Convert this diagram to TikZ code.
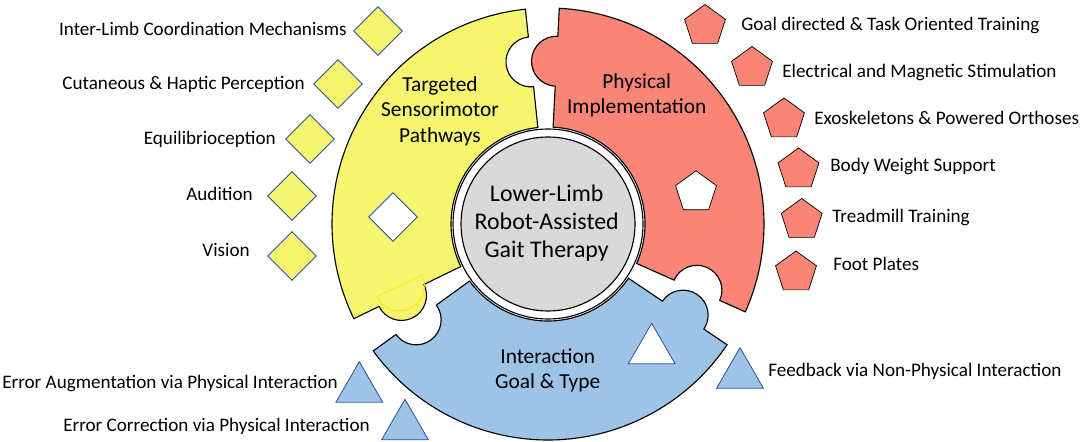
\documentclass[tikz,border=0pt]{standalone}
\usepackage{fontspec}
\setmainfont{Carlito}
\usepackage{tikz}
\usetikzlibrary{positioning,shapes.geometric}
\definecolor{sensyellow}{RGB}{245,245,112}
\definecolor{physred}{RGB}{248,133,118}
\definecolor{interblue}{RGB}{157,195,230}
\definecolor{hubgray}{RGB}{217,217,217}
\definecolor{edgeblue}{RGB}{47,85,151}
\definecolor{seamyellow}{RGB}{255,236,0}
\tikzset{
  piece/.style={draw=black,line width=0.8pt},
  sens/.style={diamond,minimum size=1.225cm,inner sep=0pt,draw=edgeblue,line width=0.6pt,fill=sensyellow},
  phys/.style={regular polygon,regular polygon sides=5,minimum size=1.075cm,inner sep=0pt,draw=black,line width=0.5pt,fill=physred},
  inter/.style={regular polygon,regular polygon sides=3,minimum size=1.35cm,inner sep=0pt,draw=edgeblue,line width=0.6pt,fill=interblue},
  item/.style={inner sep=0pt,font=\fontsize{13.6}{16}\selectfont},
  title/.style={inner sep=0pt,align=center,font=\fontsize{15.2}{18.1}\selectfont},
}
\newcommand{\puzzlepiece}[3]{%
  \filldraw[piece,fill=#3] (#1:97) arc[start angle=#1,end angle=#2,radius=97]
    -- (#2:138) arc[start angle=#2+180,end angle=#2,radius=25]
    -- (#2:216) arc[start angle=#2,end angle=#1,radius=216]
    -- (#1:188) arc[start angle=#1,end angle=#1+180,radius=25]
    -- cycle;}

\begin{document}
\begin{tikzpicture}[x=0.025cm,y=0.025cm]
\useasboundingbox (0,0) rectangle (1084,441);
\begin{scope}[shift={(548,217)}]
\puzzlepiece{96}{206}{sensyellow}
\puzzlepiece{-24}{87}{physred}
\puzzlepiece{216}{326}{interblue}
\draw[seamyellow,line width=0.6pt] (202.6:161) ++(205.7:25) arc[start angle=205.7,end angle=385.7,radius=25] -- cycle;
\draw[piece,fill=white] (0,0) circle[radius=95];
\draw[piece,fill=hubgray] (0,0) circle[radius=87];
\end{scope}

\node[sens,fill=white] (d0) at (393,224) {};
\node[phys,fill=white] (p0) at (696,248.7) {};
\node[inter,fill=white] (t0) at (651.7,90.7) {};

\node[title,font=\fontsize{17}{19.9}\selectfont] (hub) at (546.7,218) {Lower-Limb\\Robot-Assisted\\Gait Therapy};
\node[title] (sensT) at (440,330) {Targeted\\Sensorimotor\\Pathways};
\node[title] (physT) at (636.7,345.7) {Physical\\Implementation};
\node[title,font=\fontsize{15.2}{17.8}\selectfont] (interT) at (547.7,71) {Interaction\\Goal \& Type};

\node[sens] (d1) at (378,410) {};
\node[sens] (d2) at (338,357) {};
\node[sens] (d3) at (310,302) {};
\node[sens] (d4) at (292,245) {};
\node[sens] (d5) at (292,185) {};
\node[item,anchor=base east] (s1) at (347,405) {Inter-Limb Coordination Mechanisms};
\node[item,anchor=base east] (s2) at (305,351.6) {Cutaneous \& Haptic Perception};
\node[item,anchor=base east] (s3) at (276,296) {Equilibrioception};
\node[item,anchor=base east] (s4) at (253,240.3) {Audition};
\node[item,anchor=base east] (s5) at (250,184.3) {Vision};

\node[phys] (p1) at (705,415) {};
\node[phys] (p2) at (752,373) {};
\node[phys] (p3) at (784,321.5) {};
\node[phys] (p4) at (798.5,271.5) {};
\node[phys] (p5) at (801.7,221) {};
\node[phys] (p6) at (796,168.5) {};
\node[item,anchor=base west] (m1) at (741,410) {Goal directed \& Task Oriented Training};
\node[item,anchor=base west] (m2) at (782,363.3) {Electrical and Magnetic Stimulation};
\node[item,anchor=base west] (m3) at (814,316) {Exoskeletons \& Powered Orthoses};
\node[item,anchor=base west] (m4) at (830,269.3) {Body Weight Support};
\node[item,anchor=base west] (m5) at (832,218.7) {Treadmill Training};
\node[item,anchor=base west] (m6) at (833,170.7) {Foot Plates};

\node[inter] (t1) at (359.3,52.3) {};
\node[inter] (t2) at (405,14.7) {};
\node[inter] (t3) at (740,66.3) {};
\node[item,anchor=base east] (g1) at (338,52.7) {Error Augmentation via Physical Interaction};
\node[item,anchor=base east] (g2) at (370,10) {Error Correction via Physical Interaction};
\node[item,anchor=base west] (g3) at (768,65) {Feedback via Non-Physical Interaction};
\end{tikzpicture}
\end{document}
